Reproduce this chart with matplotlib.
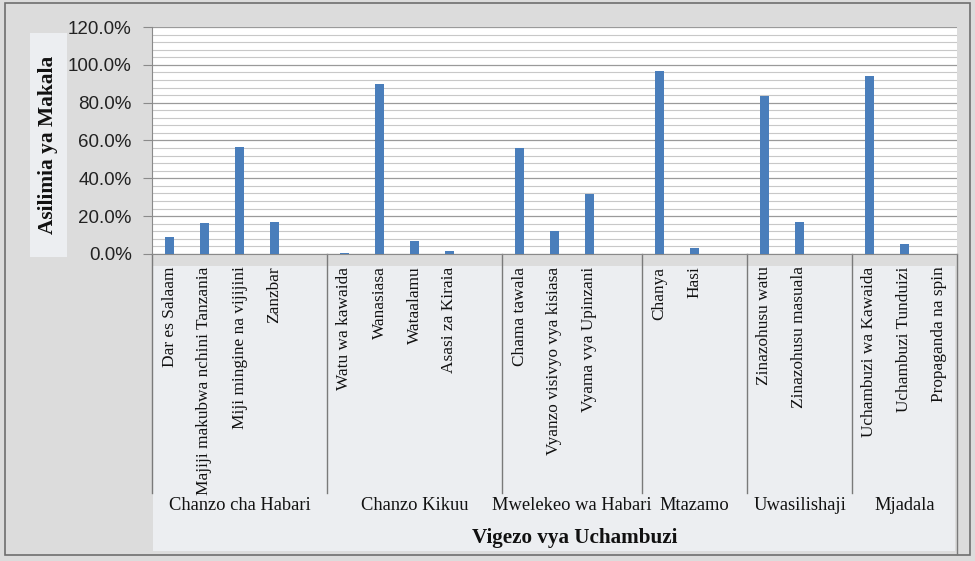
import numpy as np
import matplotlib
matplotlib.use("Agg")
import matplotlib.pyplot as plt
from matplotlib.patches import Rectangle
from matplotlib.ticker import FuncFormatter, MultipleLocator

# categories (empty string = gap slot between groups)
categories = ['Dar es Salaam', 'Majiji makubwa nchini Tanzania', 'Miji mingine na vijijini', 'Zanzbar', '',
              'Watu wa kawaida', 'Wanasiasa', 'Wataalamu', 'Asasi za Kiraia', '',
              'Chama tawala', 'Vyanzo visivyo vya kisiasa', 'Vyama vya Upinzani', '',
              'Chanya', 'Hasi', '',
              'Zinazohusu watu', 'Zinazohusu masuala', '',
              'Uchambuzi wa Kawaida', 'Uchambuzi Tunduizi', 'Propaganda na spin']
values = [8.8, 16.6, 56.3, 17.1, 0,
          0.4, 89.8, 6.9, 1.8, 0,
          56.0, 12.2, 31.8, 0,
          97.0, 3.0, 0,
          83.3, 16.8, 0,
          94.2, 5.1, 0]
groups = ['Chanzo cha Habari', 'Chanzo Kikuu', 'Mwelekeo wa Habari', 'Mtazamo', 'Uwasilishaji', 'Mjadala']
group_sizes = [5, 5, 4, 3, 3, 3]

W, H = 975, 561
fig = plt.figure(figsize=(9.75, 5.61), dpi=100)
fig.patch.set_facecolor('#dcdcdc')

serif = 'Liberation Serif'

# outer frame
fig.add_artist(Rectangle((5 / W, 1 - 555 / H), 965 / W, 552 / H, transform=fig.transFigure,
                         fill=False, edgecolor='#6e6e6e', lw=1.2, zorder=-2))
# light box behind category labels
fig.add_artist(Rectangle((153 / W, 1 - 551 / H), 802 / W, 285 / H, transform=fig.transFigure,
                         facecolor='#eceef1', edgecolor='none', zorder=-1))
# light box behind y-axis title
fig.add_artist(Rectangle((30 / W, 1 - 257 / H), 37 / W, 224 / H, transform=fig.transFigure,
                         facecolor='#eceef1', edgecolor='none', zorder=-1))

ax = fig.add_axes([152 / W, 1 - 254 / H, 805 / W, 227 / H])
ax.set_facecolor('white')

x = np.arange(len(categories))
ax.bar(x, np.array(values) / 100, width=0.27, color='#4a7ebb', zorder=3)

ax.set_xlim(-0.5, len(categories) - 0.5)
ax.set_ylim(0, 1.2)
ax.yaxis.set_major_locator(MultipleLocator(0.2))
ax.yaxis.set_minor_locator(MultipleLocator(0.04))
ax.yaxis.set_major_formatter(FuncFormatter(lambda v, p: f'{v * 100:.1f}%'))
ax.grid(axis='y', which='major', color='#9a9a9a', lw=0.9, zorder=0)
ax.grid(axis='y', which='minor', color='#c8c8c8', lw=0.8, zorder=0)
ax.tick_params(axis='y', which='major', length=6.5, color='#8a8a8a', pad=8,
               labelsize=13.5, labelcolor='#222222')
ax.tick_params(axis='y', which='minor', length=0)
for lab in ax.get_yticklabels():
    lab.set_family('Liberation Sans')

ax.set_xticks(x)
ax.set_xticklabels(categories, rotation=90, family=serif, fontsize=12.4, color='#111111')
ax.tick_params(axis='x', length=0, pad=9)

for s in ['top', 'right']:
    ax.spines[s].set_visible(False)
ax.spines['left'].set_color('#8a8a8a')
ax.spines['bottom'].set_color('#8a8a8a')

# group dividers and labels
trans = ax.get_xaxis_transform()
bounds = np.concatenate([[0], np.cumsum(group_sizes)]) - 0.5
for b in bounds[:-1]:
    ax.plot([b, b], [0, -239 / 227], transform=trans, color='#7a7a7a', lw=1, clip_on=False)
ax.plot([bounds[-1], bounds[-1]], [0, -300 / 227], transform=trans, color='#7a7a7a', lw=1, clip_on=False)
for g, lo, hi in zip(groups, bounds[:-1], bounds[1:]):
    ax.text((lo + hi) / 2, -252 / 227, g, transform=trans, ha='center', va='center',
            family=serif, fontsize=13.3, color='#111111')

ax.text(0.525, -284 / 227, 'Vigezo vya Uchambuzi', transform=ax.transAxes, ha='center', va='center',
        family=serif, fontsize=15.2, fontweight='bold', color='#111111')
fig.text(48 / W, 1 - 145 / H, 'Asilimia ya Makala', rotation=90, ha='center', va='center',
         family=serif, fontsize=15.4, fontweight='bold', color='#111111')

fig.savefig('out.png', dpi=100, facecolor=fig.get_facecolor())
